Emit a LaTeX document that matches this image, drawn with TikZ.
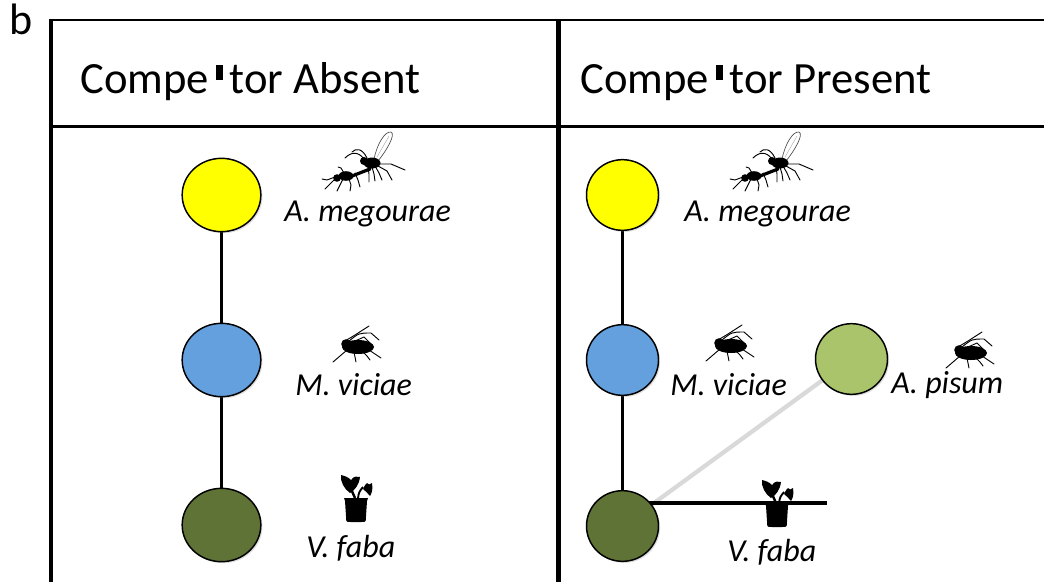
\documentclass[tikz,border=0pt]{standalone}
\usepackage{fontspec}
\setmainfont{Carlito}
\usetikzlibrary{shapes.geometric,shadows,backgrounds}

\definecolor{parasitoid}{RGB}{255,255,0}
\definecolor{aphidblue}{RGB}{99,160,221}
\definecolor{hostplant}{RGB}{95,115,54}
\definecolor{pisumgreen}{RGB}{169,196,106}

\tikzset{
  sp/.style={ellipse, draw=black, line width=1.1pt, inner sep=0pt,
    drop shadow={shadow xshift=1.2pt, shadow yshift=-1.2pt, opacity=0.25}},
  spleft/.style={sp, minimum width=59pt, minimum height=55pt},
  spright/.style={sp, minimum width=54pt, minimum height=53pt},
  link/.style={line width=2.3pt},
  faint link/.style={line width=3.2pt, gray!30},
  header/.style={anchor=base west, inner sep=0pt, font=\fontsize{33.5}{40}\selectfont},
  lab/.style={anchor=base west, inner sep=0pt, font=\fontsize{24}{28}\selectfont\itshape},
  frameline/.style={line width=#1},
  leg/.style={line width=0.7pt, line cap=round, line join=round},
  % parasitoid wasp silhouette
  wasp/.pic={
    \draw[gray!60!black, line width=0.5pt, fill=white]
      (14,-1) .. controls (17,-16) and (25,-29) .. (31,-28)
      .. controls (36,-26) and (27,-10) .. (18,1) -- cycle;
    \draw[gray!70, line width=0.3pt] (17,-3) -- (29,-24);
    \fill (12,3) ellipse [x radius=8.5, y radius=5.5];
    \fill (4,1) circle (4);
    \draw[line width=2.4pt, line cap=round] (-8,16) -- (10,9);
    \fill (-14,16) ellipse [x radius=7.5, y radius=4.8];
    \fill (-23,18) circle (3.8);
    \draw[leg] (4,-1) .. controls (-2,-9) and (-9,-8) .. (-15,-2);
    \draw[leg] (7,-2) .. controls (2,-12) and (-4,-12) .. (-8,-8);
    \draw[leg] (17,4) -- (31,4) -- (45,10);
    \draw[leg] (18,6) -- (27,11) -- (32,20);
    \draw[leg] (12,7) -- (14,14) -- (15,21);
    \draw[leg] (8,7) -- (9,14) -- (9,22);
    \draw[leg] (15,6) -- (19,13) -- (22,20);
    \draw[leg] (-25,17) -- (-33,20) -- (-38,19);
    \draw[leg] (-25,19) -- (-31,25) -- (-35,29);
    \draw[leg] (-17,19) -- (-20,25) -- (-23,31);
    \draw[leg] (-11,19) -- (-9,25) -- (-10,31);
    \draw[leg] (-16,13) -- (-19,8) -- (-22,7);
    \draw[leg] (-5,13) -- (-2,20) -- (0,27);
  },
  % aphid silhouette
  aphid/.pic={
    \fill (1,0) ellipse [x radius=16, y radius=7];
    \fill (-11,-3) circle (4.8);
    \draw[leg] (-10,3) -- (-17,9) -- (-24,15);
    \draw[leg] (-3,5) -- (-2,10) -- (-1,15);
    \draw[leg] (6,5) -- (10,9) -- (13,13);
    \draw[leg] (12,3) -- (18,7) -- (24,11);
    \draw[leg] (-12,-6) -- (-2,-12) -- (12,-21);
    \draw[leg] (-8,-6) .. controls (2,-14) .. (14,-14) -- (22,-7);
    \draw[leg] (-2,-6) -- (7,-10) -- (13,-4);
  },
  % potted plant silhouette
  plantpot/.pic={
    \fill (-12,0) -- (12,0) -- (11,3) -- (10,18) .. controls (10,24) .. (5,24)
      -- (-5,24) .. controls (-10,24) .. (-10,18) -- (-11,3) -- cycle;
    \draw[line width=1.8pt] (-1,0) -- (-5,-9);
    \draw[line width=1.4pt] (2,0) .. controls (3,-6) .. (7,-11);
    \fill (-6,-5) .. controls (-12,-9) and (-16,-17) .. (-15,-23)
      .. controls (-11,-22) and (-8,-21) .. (-5,-18)
      .. controls (-2,-22) and (1,-22) .. (4,-21)
      .. controls (3,-13) and (-1,-8) .. (-6,-5) -- cycle;
    \fill (7,-9) .. controls (8,-12) and (10,-14) .. (11,-15)
      .. controls (12,-13) and (14,-13) .. (16,-15)
      .. controls (17,-9) and (16,-5) .. (14,-2)
      .. controls (12,-5) and (9,-7) .. (7,-9) -- cycle;
  },
}

\begin{document}
\begin{tikzpicture}[x=0.75pt, y=-0.75pt]
\useasboundingbox (0,0) rectangle (1044,582);

% panel frame
\draw[frameline=2pt] (49,20) -- (1044,20);
\draw[frameline=2.25pt] (50,126) -- (1044,126);
\draw[frameline=3pt] (50.5,18.5) -- (50.5,582);
\draw[frameline=3.75pt] (558,20) -- (558,582);

% panel letter and headers
\node[anchor=base west, inner sep=0pt, font=\fontsize{33}{38}\selectfont] (panel) at (9,34) {b};
\node[header] (hleft) at (80,93) {Compe\hspace{5pt}\rule[9.75pt]{5.5pt}{11.5pt}\hspace{5pt}tor Absent};
\node[header] (hright) at (580,93) {Compe\hspace{5pt}\rule[9.75pt]{5.5pt}{11.5pt}\hspace{5pt}tor Present};

% food chain without competitor
\node[spleft, fill=parasitoid] (ya) at (221.5,195) {};
\node[spleft, fill=aphidblue] (ba) at (221.5,360) {};
\node[spleft, fill=hostplant] (ga) at (221.5,525) {};

% food chain with competitor
\node[spright, fill=parasitoid] (yp) at (622.5,195) {};
\node[spright, fill=aphidblue] (bp) at (622.5,360) {};
\node[spright, fill=hostplant] (gp) at (622.5,526) {};
\node[spright, fill=pisumgreen] (lp) at (851.5,359) {};
\coordinate (fabaend) at (827,503);

\begin{pgfonlayer}{background}
  \draw[faint link] (gp) -- (lp);
  \draw[link] (ya) -- (ba);
  \draw[link] (ba) -- (ga);
  \draw[link] (yp) -- (bp);
  \draw[link] (bp) -- (gp);
  \draw[link] (gp.center |- fabaend) -- (fabaend);
\end{pgfonlayer}

% species names
\node[lab] (la1) at (284,221) {A. megourae};
\node[lab] (la2) at (295,395) {M. viciae};
\node[lab] (la3) at (306,557) {V. faba};
\node[lab] (lb1) at (684,221) {A. megourae};
\node[lab] (lb2) at (670,395) {M. viciae};
\node[lab] (lb3) at (891,393) {A. pisum};
\node[lab] (lb4) at (727,561) {V. faba};

% organism icons
\pic at (360,160) {wasp};
\pic at (768,160) {wasp};
\pic at (357,347) {aphid};
\pic at (730,346) {aphid};
\pic at (970,353) {aphid};
\pic at (356,498) {plantpot};
\pic at (777,503) {plantpot};
\end{tikzpicture}
\end{document}
